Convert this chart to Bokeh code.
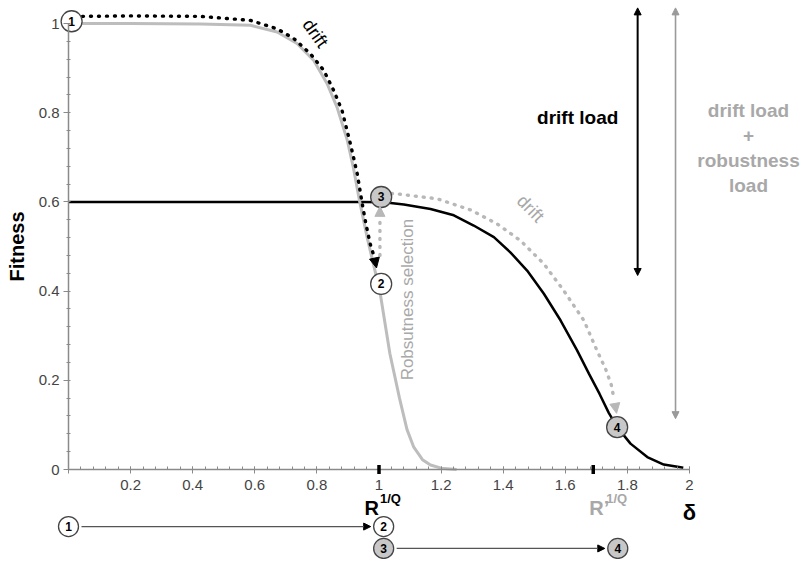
from bokeh.plotting import figure
from bokeh.models import Range1d, FixedTicker, Label, Arrow, NormalHead
from bokeh.core.properties import value
from bokeh.embed import file_html
from bokeh.resources import INLINE

# ---------------- data ----------------
# fitness curve before robustness selection (grey)
gray_x = [0, 0.2, 0.425, 0.586, 0.672, 0.736, 0.79, 0.833, 0.865, 0.898, 0.918, 0.938,
          0.962, 0.99, 1.005, 1.035, 1.066, 1.09, 1.112, 1.14, 1.166, 1.2, 1.25]
gray_y = [1.0, 1.0, 0.999, 0.996, 0.981, 0.955, 0.917, 0.865, 0.812, 0.738, 0.675, 0.6,
          0.52, 0.437, 0.39, 0.26, 0.16, 0.09, 0.05, 0.022, 0.01, 0.003, 0.0]
# fitness curve after robustness selection (black)
black_x = [0, 0.3, 0.6, 0.9, 0.95, 1.016, 1.08, 1.166, 1.241, 1.305, 1.37, 1.423, 1.477,
           1.531, 1.585, 1.638, 1.676, 1.71, 1.74, 1.767, 1.81, 1.864, 1.917, 1.971, 1.98]
black_y = [0.6, 0.6, 0.6, 0.6, 0.6, 0.599, 0.594, 0.584, 0.57, 0.547, 0.521, 0.487, 0.446,
           0.394, 0.334, 0.267, 0.215, 0.17, 0.127, 0.095, 0.058, 0.028, 0.011, 0.005, 0.004]
# drift path 1 -> 2 (black dotted)
drift1_x = [0.045, 0.2, 0.425, 0.586, 0.672, 0.726, 0.779, 0.822, 0.854, 0.881, 0.908,
            0.93, 0.946, 0.958, 0.972, 0.984]
drift1_y = [1.016, 1.017, 1.016, 1.007, 0.988, 0.966, 0.932, 0.895, 0.85, 0.805, 0.73,
            0.663, 0.596, 0.55, 0.505, 0.478]
drift1_tip = [0.992, 0.452]
# robustness selection 2 -> 3 (grey dotted)
sel_x = [1.003, 1.003]
sel_y = [0.48, 0.566]
sel_tip = [1.003, 0.59]
# drift path 3 -> 4 (grey dotted)
drift2_x = [1.04, 1.059, 1.187, 1.295, 1.38, 1.456, 1.531, 1.595, 1.66, 1.7, 1.73, 1.748, 1.757]
drift2_y = [0.619, 0.618, 0.607, 0.582, 0.551, 0.513, 0.461, 0.401, 0.334, 0.27, 0.225, 0.19, 0.158]
drift2_tip = [1.765, 0.126]
# numbered states
state_x = [0.01, 1.007, 1.007, 1.767]
state_y = [1.005, 0.416, 0.611, 0.095]
state_lab = ["1", "2", "3", "4"]
state_fill = ["white", "white", "#c8c8c8", "#c8c8c8"]
# state sequence below the axis
flow_x = [0.0, 1.015, 1.015, 1.769]
flow_y = [-0.128, -0.128, -0.177, -0.177]
# R^{1/Q} positions on the axis
r_marks = [1.0, 1.69]
# load arrows
load_x = [1.833, 1.955]
load_top = [1.035, 1.035]
load_bottom = [0.435, 0.114]
# axis ticks
x_ticks = [0, 0.2, 0.4, 0.6, 0.8, 1, 1.2, 1.4, 1.6, 1.8, 2]
x_tick_labels = ["", "0.2", "0.4", "0.6", "0.8", "1", "1.2", "1.4", "1.6", "1.8", "2"]
y_ticks = [0, 0.2, 0.4, 0.6, 0.8, 1]
y_tick_labels = ["0", "0.2", "0.4", "0.6", "0.8", "1"]

# ---------------- layout ----------------
W, H = 803, 559
ox, oy = 68, 469          # canvas pixel of the data origin
sx, sy = 310.5, 446.0     # pixels per data unit
FONT = "Liberation Sans"
GRAY_TXT = "#a8a8a8"

p = figure(width=W, height=H, output_backend="svg", toolbar_location=None,
           x_range=Range1d(-ox / sx, (W - ox) / sx),
           y_range=Range1d(-(H - oy) / sy, oy / sy),
           min_border=0, outline_line_color=None, background_fill_color="white")
p.grid.visible = False

# axes crossing at the origin
p.xaxis.fixed_location = 0
p.yaxis.fixed_location = 0
p.xaxis.bounds = (0, 2)
p.yaxis.bounds = (0, 1)
p.xaxis.ticker = FixedTicker(ticks=x_ticks, minor_ticks=[i * 0.04 for i in range(51)])
p.yaxis.ticker = FixedTicker(ticks=y_ticks, minor_ticks=[i * 0.04 for i in range(26)])
p.xaxis.major_label_overrides = dict(zip(x_ticks, x_tick_labels))
p.yaxis.major_label_overrides = dict(zip(y_ticks, y_tick_labels))
for ax in (p.xaxis[0], p.yaxis[0]):
    ax.axis_line_color = "#8a8a8a"
    ax.axis_line_width = 1.5
    ax.major_tick_line_color = "#8a8a8a"
    ax.minor_tick_line_color = "#8a8a8a"
    ax.major_label_text_font = FONT
    ax.major_label_text_font_size = "15px"
    ax.major_label_text_color = "#444444"
p.xaxis.major_tick_in = 3
p.xaxis.major_tick_out = 4
p.xaxis.minor_tick_in = 3
p.xaxis.minor_tick_out = 0
p.xaxis.major_label_standoff = 6
p.yaxis.major_tick_in = 0
p.yaxis.major_tick_out = 5
p.yaxis.minor_tick_in = 2
p.yaxis.minor_tick_out = 2
p.yaxis.major_label_standoff = 4
p.yaxis.axis_label = "Fitness"
p.yaxis.axis_label_text_font = FONT
p.yaxis.axis_label_text_font_size = "20px"
p.yaxis.axis_label_text_font_style = "bold"
p.yaxis.axis_label_text_color = "black"
p.yaxis.axis_label_standoff = 8

# curves
p.line(black_x, black_y, line_color="black", line_width=2.5)
p.line(gray_x, gray_y, line_color="#bdbdbd", line_width=3)

# dotted paths with heads
DOT = "1 7"
p.line(drift1_x, drift1_y, line_color="black", line_width=3.4, line_dash=DOT, line_cap="round")
p.add_layout(Arrow(x_start=drift1_x[-1], y_start=drift1_y[-1], x_end=drift1_tip[0], y_end=drift1_tip[1],
                   line_alpha=0, end=NormalHead(size=10, fill_color="black", line_color="black")))
p.line(sel_x, sel_y, line_color="#b8b8b8", line_width=3.4, line_dash=DOT, line_cap="round")
p.add_layout(Arrow(x_start=sel_x[-1], y_start=sel_y[-1], x_end=sel_tip[0], y_end=sel_tip[1],
                   line_alpha=0, end=NormalHead(size=10, fill_color="#b8b8b8", line_color="#b8b8b8")))
p.line(drift2_x, drift2_y, line_color="#b8b8b8", line_width=3.4, line_dash=DOT, line_cap="round")
p.add_layout(Arrow(x_start=drift2_x[-1], y_start=drift2_y[-1], x_end=drift2_tip[0], y_end=drift2_tip[1],
                   line_alpha=0, end=NormalHead(size=10, fill_color="#b8b8b8", line_color="#b8b8b8")))

# load arrows
load_col = ["black", "#9a9a9a"]
load_w = [2, 1.6]
for lx, lt, lb, c, w in zip(load_x, load_top, load_bottom, load_col, load_w):
    p.add_layout(Arrow(x_start=lx, y_start=lb, x_end=lx, y_end=lt, line_color=c, line_width=w,
                       start=NormalHead(size=7, fill_color=c, line_color=c),
                       end=NormalHead(size=7, fill_color=c, line_color=c)))

# R^{1/Q} marks on the axis (drawn above the axis ticks)
p.rect(r_marks, [0, 0], width=3.5, height=9, width_units="screen", height_units="screen",
       fill_color="black", line_color=None, level="overlay")

# numbered states
p.scatter(state_x, state_y, size=21, marker="circle", fill_color=state_fill,
          line_color="#444444", line_width=1.3)
p.text(state_x, state_y, text=state_lab, text_align="center", text_baseline="middle",
       text_font=value(FONT), text_font_style="bold", text_font_size=value("12px"), text_color="black")

# state sequence below the axis
p.scatter(flow_x, flow_y, size=20, marker="circle", fill_color=state_fill,
          line_color="#444444", line_width=1.3)
p.text(flow_x, flow_y, text=state_lab, text_align="center", text_baseline="middle",
       text_font=value(FONT), text_font_style="bold", text_font_size=value("12px"), text_color="black")
pad = 13 / sx
for a, b in ((0, 1), (2, 3)):
    p.add_layout(Arrow(x_start=flow_x[a] + pad, y_start=flow_y[a], x_end=flow_x[b] - pad, y_end=flow_y[b],
                       line_color="#555555", line_width=1.3,
                       end=NormalHead(size=7, fill_color="black", line_color="black")))

# axis symbols
base_y = -38 / sy
sup_y = -29 / sy
p.add_layout(Label(x=r_marks[0], y=base_y, text="R", text_align="right", text_baseline="alphabetic",
                   text_font=FONT, text_font_style="bold", text_font_size="20px", text_color="black"))
p.add_layout(Label(x=r_marks[0], y=sup_y, x_offset=1, text="1/Q", text_align="left", text_baseline="alphabetic",
                   text_font=FONT, text_font_style="bold", text_font_size="13px", text_color="black"))
p.add_layout(Label(x=r_marks[1], y=base_y, x_offset=-4, text="R\u2019", text_align="left", text_baseline="alphabetic",
                   text_font=FONT, text_font_style="bold", text_font_size="20px", text_color=GRAY_TXT))
p.add_layout(Label(x=r_marks[1], y=sup_y, x_offset=13, text="1/Q", text_align="left", text_baseline="alphabetic",
                   text_font=FONT, text_font_style="bold", text_font_size="13px", text_color=GRAY_TXT))
p.add_layout(Label(x=x_ticks[-1], y=-43 / sy, text="\u03b4", text_align="center", text_baseline="alphabetic",
                   text_font=FONT, text_font_style="bold", text_font_size="22px", text_color="black"))

# annotations
p.add_layout(Label(x=0.795, y=0.978, text="drift", angle=-0.95, text_align="center", text_baseline="middle",
                   text_font=FONT, text_font_size="18px", text_color="black"))
p.add_layout(Label(x=1.488, y=0.585, text="drift", angle=-0.8, text_align="center", text_baseline="middle",
                   text_font=FONT, text_font_size="18px", text_color=GRAY_TXT))
p.add_layout(Label(x=1.092, y=0.381, text="Robsutness selection", angle=1.5708, text_align="center",
                   text_baseline="middle", text_font=FONT, text_font_size="17px", text_color=GRAY_TXT))
p.add_layout(Label(x=1.64, y=0.789, text="drift load", text_align="center", text_baseline="middle",
                   text_font=FONT, text_font_style="bold", text_font_size="19px", text_color="black"))
for i, t in enumerate(["drift load", "+", "robustness", "load"]):
    p.add_layout(Label(x=2.19, y=(359 - 25 * i) / sy, text=t, text_align="center", text_baseline="middle",
                       text_font=FONT, text_font_style="bold", text_font_size="19px", text_color=GRAY_TXT))

open("out.html", "w").write(file_html(p, INLINE))
